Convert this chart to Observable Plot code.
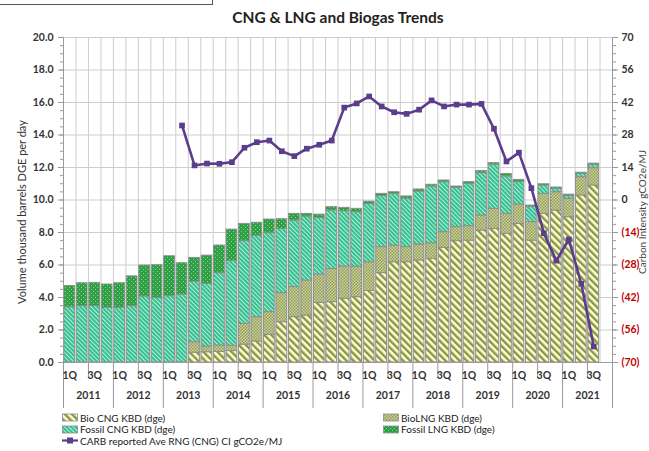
<!DOCTYPE html>
<html>
<head>
<meta charset="utf-8">
<script src="https://cdn.jsdelivr.net/npm/d3@7"></script>
<script src="https://cdn.jsdelivr.net/npm/@observablehq/plot@0.6"></script>
<style>
  body { margin:0; width:649px; height:451px; overflow:hidden; background:#fff; position:relative; font-family: Lato, "Open Sans", sans-serif; }
  #artifact { position:absolute; left:-2px; top:-3px; width:214px; height:7px; border-right:1.5px solid #555; border-bottom:1.5px solid #555; }
  #title { height:30px; line-height:30px; padding-top:2px; box-sizing:border-box; text-align:center; padding-left:27px; font-size:15.5px; font-weight:bold; color:#222; }
  #chart svg { display:block; overflow:visible; }
  #legend { display:grid; grid-template-columns: 321px auto; padding-left:62px; padding-top:0px; font-size:10px; color:#222; }
  .item { display:flex; align-items:center; height:11.5px; white-space:nowrap; }
  .item svg { margin-right:2px; }
</style>
</head>
<body>
<svg width="0" height="0" style="position:absolute">
  <defs>
    <pattern id="pBioCNG" patternUnits="userSpaceOnUse" width="5" height="5" patternTransform="rotate(-45)">
      <rect width="5" height="5" fill="#ffffc8"/>
      <rect width="2.4" height="5" fill="#87944f"/>
    </pattern>
    <pattern id="pBioLNG" patternUnits="userSpaceOnUse" width="3" height="3">
      <rect width="3" height="3" fill="#cdd49a"/>
      <rect width="1.5" height="1.5" fill="#919d5a"/>
      <rect x="1.5" y="1.5" width="1.5" height="1.5" fill="#919d5a"/>
    </pattern>
    <pattern id="pFossilCNG" patternUnits="userSpaceOnUse" width="3" height="3" patternTransform="rotate(-45)">
      <rect width="3" height="3" fill="#30bd8e"/>
      <rect width="1.1" height="3" fill="#aef0d6"/>
    </pattern>
    <pattern id="pFossilLNG" patternUnits="userSpaceOnUse" width="4" height="4">
      <rect width="4" height="4" fill="#2e9f45"/>
      <rect x="1" y="1" width="1" height="1" fill="#86d891"/>
      <rect x="3" y="3" width="1" height="1" fill="#86d891"/>
    </pattern>
  </defs>
</svg>
<div id="artifact"></div>
<div id="title">CNG &amp; LNG and Biogas Trends</div>
<div id="chart"></div>
<div id="legend"></div>
<script>
// ---- data ----
const years = ["2011","2012","2013","2014","2015","2016","2017","2018","2019","2020","2021"];
const quarterTickLabels = ["1Q", "", "3Q", ""];
const bioCNG = [0,0,0,0,0,0,0,0,0,0,
  0.60,0.63,0.65,0.70,1.10,1.29,1.70,2.48,2.79,2.89,3.67,3.71,3.92,4.02,4.40,5.50,6.17,6.17,6.28,6.38,7.06,7.47,7.50,8.12,8.22,7.92,8.53,7.50,9.15,9.35,8.94,10.28,10.89];
const bioLNG = [0,0,0,0,0,0,0,0,0,0,
  0.65,0.35,0.40,0.33,1.28,1.50,1.40,1.79,1.85,2.16,1.75,2.05,1.98,1.88,1.77,1.60,1.03,0.93,0.98,0.96,0.96,0.86,0.89,0.93,1.24,1.23,1.19,1.14,1.23,1.13,1.13,1.12,1.07];
const fossilCNG = [3.40,3.47,3.47,3.37,3.37,3.47,4.06,3.98,4.08,4.18,
  3.73,3.86,4.45,5.21,5.09,5.01,4.86,3.95,4.10,3.93,3.48,3.59,3.41,3.35,3.59,3.15,3.18,2.97,3.26,3.49,3.08,2.42,2.61,2.60,2.72,2.30,1.38,0.92,0.51,0.21,0.18,0.20,0.20];
const fossilLNG = [1.30,1.41,1.43,1.43,1.51,1.83,1.91,2.01,2.46,1.93,
  1.46,1.74,1.70,1.94,1.06,0.80,0.84,0.60,0.41,0.17,0.20,0.21,0.21,0.21,0.14,0.13,0.10,0.15,0.13,0.11,0.10,0.08,0.10,0.13,0.09,0.15,0.14,0.10,0.08,0.08,0.08,0.08,0.08];
const carbonIntensity = [null,null,null,null,null,null,null,null,null,
  32.1,14.9,15.7,15.6,16.3,22.5,24.9,25.6,21.0,18.9,22.1,23.8,25.6,39.8,41.6,44.6,40.3,37.8,37.1,38.9,42.9,40.3,41.1,41.1,41.4,30.7,16.6,20.4,5.1,-14.3,-26.1,-17.0,-36.1,-63.1];
const leftTicks = [0,2,4,6,8,10,12,14,16,18,20];
const rightTicks = [70,56,42,28,14,0,-14,-28,-42,-56,-70];
const seriesNames = ["Bio CNG KBD (dge)","BioLNG KBD (dge)","Fossil CNG KBD (dge)","Fossil LNG KBD (dge)"];
const lineName = "CARB reported Ave RNG (CNG) CI gCO2e/MJ";
const yTitle = "Volume thousand barrels DGE per day";
const y2Title = "Carbon Intensity gCO2e/MJ";

// ---- derived ----
const nQ = years.length * 4;
const leftMax = d3.max(leftTicks), rightMin = d3.min(rightTicks), rightMax = d3.max(rightTicks);
const ciToLeft = v => (v - rightMin) / (rightMax - rightMin) * leftMax;
const leftToCi = t => Math.round(t / leftMax * (rightMax - rightMin) + rightMin);
const fills = ["url(#pBioCNG)","url(#pBioLNG)","url(#pFossilCNG)","url(#pFossilLNG)"];
const series = [bioCNG, bioLNG, fossilCNG, fossilLNG];
const segs = [];
bioCNG.forEach((_, i) => {
  let base = 0;
  series.forEach((s, k) => {
    const v = s[i];
    if (v > 0) segs.push({i, k, y1: base, y2: base + v});
    base += v;
  });
});
const linePts = carbonIntensity.map((v, i) => ({i, v})).filter(d => d.v != null);
const qLabels = d3.range(nQ).map(i => ({i, t: quarterTickLabels[i % 4]})).filter(d => d.t);
const yearLabels = years.map((y, j) => ({i: j * 4 + 2, t: y}));
const fmtRight = t => { const v = leftToCi(t); return v < 0 ? `(${-v})` : `${v}`; };
const font = "Lato, 'Open Sans', sans-serif";
const grid = "#cdcdcd", axisCol = "#9a9a9a", txt = "#333";

const chart = Plot.plot({
  width: 649, height: 382,
  marginLeft: 63, marginRight: 37, marginTop: 7, marginBottom: 50,
  x: {domain: [0, nQ]},
  y: {domain: [0, leftMax]},
  style: {fontFamily: font, background: "transparent", overflow: "visible"},
  marks: [
    Plot.ruleX(d3.range(1, nQ), {stroke: grid, strokeWidth: 1}),
    Plot.ruleY(leftTicks.filter(d => d > 0), {stroke: grid, strokeWidth: 1}),
    ...series.map((s, k) => Plot.rect(segs.filter(d => d.k === k), {
      x1: d => d.i + 0.07, x2: d => d.i + 0.93, y1: "y1", y2: "y2",
      fill: fills[k], stroke: "#8c8c8c", strokeWidth: 0.9
    })),
    Plot.ruleX([0, nQ], {stroke: axisCol}),
    Plot.ruleY([0], {stroke: axisCol}),
    Plot.line(linePts, {x: d => d.i + 0.5, y: d => ciToLeft(d.v), stroke: "#5b3c8d", strokeWidth: 2.6}),
    Plot.dot(linePts, {x: d => d.i + 0.5, y: d => ciToLeft(d.v), symbol: "square", r: 3.2, fill: "#5b3c8d", stroke: "none"}),
    // left axis
    Plot.axisY(d3.range(0, leftMax + 0.01, 0.5), {anchor: "left", tickSize: 3, tickFormat: () => "", stroke: axisCol, label: null}),
    Plot.axisY(leftTicks, {anchor: "left", tickSize: 5, tickPadding: 5, tickFormat: d => d.toFixed(1), stroke: axisCol, fill: txt, fontWeight: "bold", fontSize: 10.5, label: null}),
    // right axis
    Plot.axisY(d3.range(rightMin, rightMax + 0.01, 3.5).map(ciToLeft), {anchor: "right", tickSize: 3, tickFormat: () => "", stroke: axisCol, label: null}),
    Plot.axisY(rightTicks.filter(v => v >= 0).map(ciToLeft), {anchor: "right", tickSize: 5, tickPadding: 4, tickFormat: fmtRight, stroke: axisCol, fill: txt, fontWeight: "bold", fontSize: 10.5, label: null}),
    Plot.axisY(rightTicks.filter(v => v < 0).map(ciToLeft), {anchor: "right", tickSize: 5, tickPadding: 4, tickFormat: fmtRight, stroke: axisCol, fill: "#c00000", fontWeight: "bold", fontSize: 10.5, label: null}),
    // x axis
    Plot.axisX(d3.range(0, nQ + 1, 4), {anchor: "bottom", tickSize: 46, tickFormat: () => "", stroke: axisCol, label: null}),
    Plot.axisX(d3.range(2, nQ, 4), {anchor: "bottom", tickSize: 16, tickFormat: () => "", stroke: axisCol, label: null}),
    Plot.text(qLabels, {x: d => d.i + 0.5, frameAnchor: "bottom", dy: 16, text: "t", fill: txt, fontWeight: "bold", fontSize: 10.5}),
    Plot.text(yearLabels, {x: "i", frameAnchor: "bottom", dy: 36, text: "t", fill: txt, fontWeight: "bold", fontSize: 10.5}),
    // axis titles
    Plot.text([yTitle], {frameAnchor: "left", textAnchor: "middle", dx: -41, dy: 12, rotate: -90, text: d => d, fill: txt, fontSize: 11}),
    Plot.text([y2Title], {frameAnchor: "right", textAnchor: "middle", dx: 30, dy: 12, rotate: -90, text: d => d, fill: "#444", fontSize: 10})
  ]
});
document.getElementById("chart").appendChild(chart);

// ---- legend ----
const legend = d3.select("#legend");
const items = [
  {name: seriesNames[0], fill: fills[0]}, {name: seriesNames[1], fill: fills[1]},
  {name: seriesNames[2], fill: fills[2]}, {name: seriesNames[3], fill: fills[3]},
  {name: lineName, line: true}
];
items.forEach(it => {
  const div = legend.append("div").attr("class", "item");
  const s = div.append("svg").attr("width", 16).attr("height", 9);
  if (it.line) {
    s.append("line").attr("x1", 0).attr("x2", 16).attr("y1", 4.5).attr("y2", 4.5).attr("stroke", "#5b3c8d").attr("stroke-width", 2.2);
    s.append("rect").attr("x", 5).attr("y", 1.5).attr("width", 6).attr("height", 6).attr("fill", "#5b3c8d");
  } else {
    s.append("rect").attr("x", 0.5).attr("y", 1).attr("width", 15).attr("height", 7).attr("fill", it.fill).attr("stroke", "#8c8c8c").attr("stroke-width", 0.8);
  }
  div.append("span").text(it.name);
});
</script>
</body>
</html>
